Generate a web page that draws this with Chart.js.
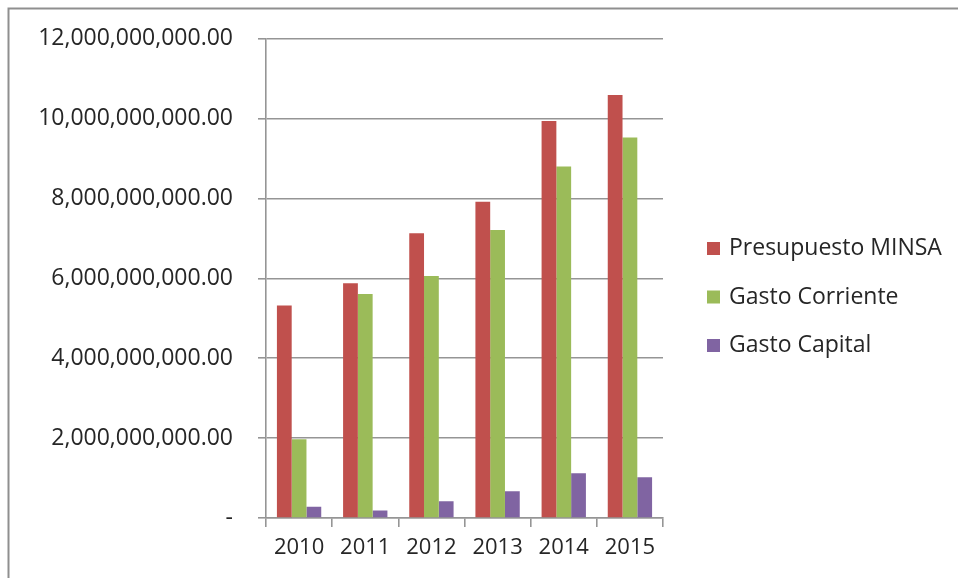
<!DOCTYPE html>
<html>
<head>
<meta charset="utf-8">
<script src="https://cdn.jsdelivr.net/npm/chart.js@4/dist/chart.umd.min.js"></script>
<style>
  html, body { margin: 0; padding: 0; background: #ffffff; }
  #wrap { position: relative; width: 958px; height: 578px; }
  canvas { display: block; }
</style>
</head>
<body>
<div id="wrap"><canvas id="chart" width="958" height="578"></canvas></div>
<script>
// Presupuesto y gasto del MINSA por año (soles)
const years = ['2010', '2011', '2012', '2013', '2014', '2015'];
const presupuestoMinsa = [5.32e9, 5.88e9, 7.13e9, 7.92e9, 9.94e9, 10.59e9];
const gastoCorriente   = [1.97e9, 5.61e9, 6.06e9, 7.21e9, 8.80e9, 9.53e9];
const gastoCapital     = [0.28e9, 0.19e9, 0.42e9, 0.67e9, 1.12e9, 1.02e9];
const yTickLabels = [
  '-',
  '2,000,000,000.00',
  '4,000,000,000.00',
  '6,000,000,000.00',
  '8,000,000,000.00',
  '10,000,000,000.00',
  '12,000,000,000.00'
];
const seriesNames = ['Presupuesto MINSA', 'Gasto Corriente', 'Gasto Capital'];
const seriesColors = ['#C0504D', '#9BBB59', '#8064A2'];

const FONT = '"Open Sans", "Liberation Sans", sans-serif';
const TEXT = '#262626';
const GRID = '#959595';

// Frame lines along the top and left edges, white background
const framePlugin = {
  id: 'frame',
  beforeDraw(chart) {
    const ctx = chart.ctx;
    ctx.save();
    ctx.fillStyle = '#ffffff';
    ctx.fillRect(0, 0, chart.width, chart.height);
    ctx.strokeStyle = '#8f8f8f';
    ctx.lineWidth = 2;
    ctx.beginPath();
    ctx.moveTo(8.5, chart.height);
    ctx.lineTo(8.5, 8.5);
    ctx.lineTo(chart.width, 8.5);
    ctx.stroke();
    ctx.restore();
  }
};

// Legend on the right, one row per dataset
const sideLegend = {
  id: 'sideLegend',
  afterDraw(chart) {
    const ctx = chart.ctx;
    const x = 707, box = 13, gap = 48.5, y0 = 248.5;
    ctx.save();
    ctx.font = '23px ' + FONT;
    ctx.textBaseline = 'middle';
    ctx.textAlign = 'left';
    chart.data.datasets.forEach((ds, i) => {
      const cy = y0 + i * gap;
      ctx.fillStyle = ds.backgroundColor;
      ctx.fillRect(x, cy - box / 2, box, box);
      ctx.fillStyle = TEXT;
      ctx.fillText(ds.label, x + 22, cy);
    });
    ctx.restore();
  }
};

new Chart(document.getElementById('chart'), {
  type: 'bar',
  data: {
    labels: years,
    datasets: [
      { label: seriesNames[0], data: presupuestoMinsa, backgroundColor: seriesColors[0] },
      { label: seriesNames[1], data: gastoCorriente,   backgroundColor: seriesColors[1] },
      { label: seriesNames[2], data: gastoCapital,     backgroundColor: seriesColors[2] }
    ]
  },
  options: {
    responsive: false,
    animation: false,
    devicePixelRatio: 1,
    layout: { padding: { left: 0, top: 37, right: 295, bottom: 0 } },
    datasets: { bar: { categoryPercentage: 0.67, barPercentage: 1.0, borderWidth: 0 } },
    plugins: {
      legend: { display: false },
      tooltip: { enabled: false },
      title: { display: false }
    },
    scales: {
      x: {
        offset: true,
        grid: {
          offset: true,
          drawOnChartArea: false,
          drawTicks: true,
          tickLength: 9,
          color: GRID,
          lineWidth: 1.6
        },
        border: { display: true, color: GRID, width: 1.6 },
        ticks: { color: TEXT, font: { family: FONT, size: 22 }, padding: 8, maxRotation: 0 },
        afterFit(scale) { scale.height = 60; }
      },
      y: {
        min: 0,
        max: 12e9,
        ticks: {
          stepSize: 2e9,
          color: TEXT,
          font: { family: FONT, size: 23 },
          padding: 25,
          callback: (value, index) => yTickLabels[index]
        },
        grid: { color: GRID, lineWidth: 1.6, tickLength: 8, drawTicks: true },
        border: { display: true, color: GRID, width: 1.6 },
        afterFit(scale) { scale.width = 266; }
      }
    }
  },
  plugins: [framePlugin, sideLegend]
});
</script>
</body>
</html>
